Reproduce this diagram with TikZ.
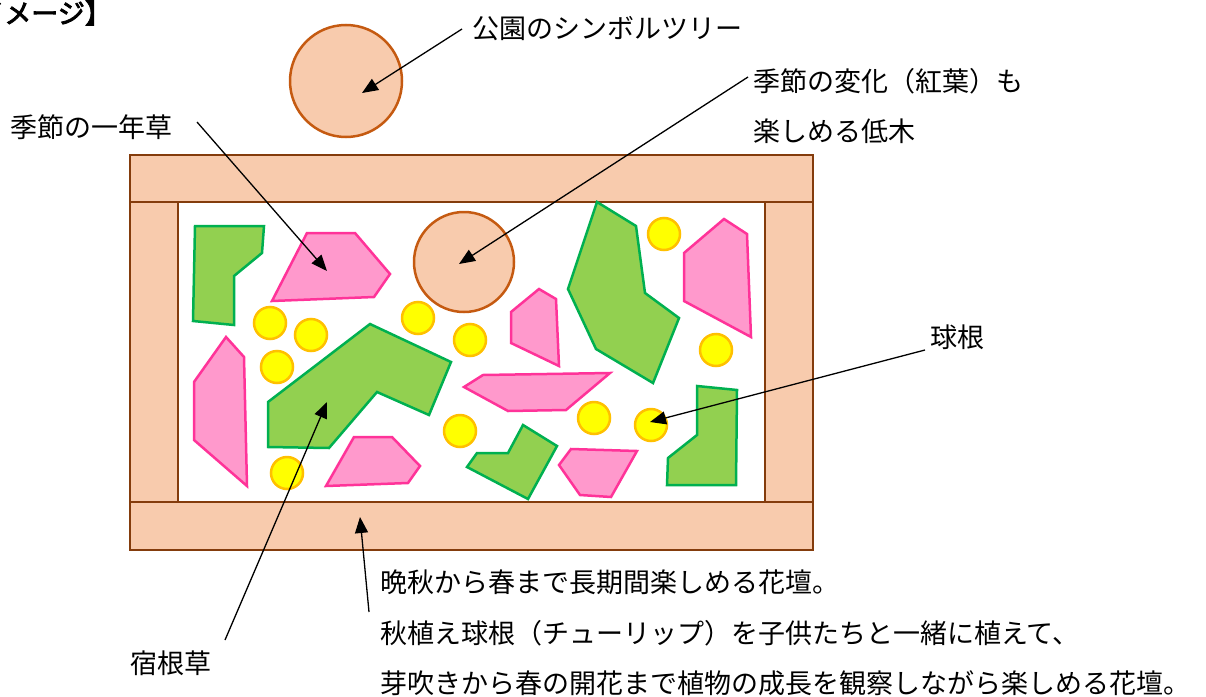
\documentclass[tikz,border=0pt]{standalone}
\usepackage{fontspec}
\newfontfamily\jp{Noto Sans CJK JP}
\newfontfamily\jpb[FakeBold=3]{Noto Sans CJK JP}
\usetikzlibrary{arrows.meta}
\definecolor{bedfill}{HTML}{F8CBAD}
\definecolor{beddraw}{HTML}{843C0C}
\definecolor{treedraw}{HTML}{C55A11}
\definecolor{gfill}{HTML}{92D050}
\definecolor{gdraw}{HTML}{00B050}
\definecolor{pfill}{HTML}{FF99CC}
\definecolor{pdraw}{HTML}{FF3399}
\definecolor{yfill}{HTML}{FFFF00}
\definecolor{ydraw}{HTML}{FFC000}
\begin{document}
\begin{tikzpicture}[x=1pt,y=-1pt,
  frame/.style={fill=bedfill,draw=beddraw,line width=2.5pt},
  tree/.style={fill=bedfill,draw=treedraw,line width=2.5pt},
  perennial/.style={fill=gfill,draw=gdraw,line width=2.5pt,line join=miter},
  annual/.style={fill=pfill,draw=pdraw,line width=2.5pt,line join=miter},
  bulb/.style={fill=yfill,draw=ydraw,line width=2.5pt},
  lbl/.style={anchor=west,inner sep=0pt,font=\jp\fontsize{27}{32}\selectfont},
  callout/.style={line width=1.3pt,-{Triangle[length=16pt,width=13pt]}}]
\useasboundingbox (0,0) rectangle (1206,696);
% title (cut at left edge, as in the reference)
\node[anchor=east,inner sep=0pt,font=\jpb\fontsize{27}{32}\selectfont] (title) at (112,13) {【イメージ】};
% flower bed frame
\fill[white] (178,202) rectangle (765,502);
\draw[frame] (130,155) rectangle (813,202);
\draw[frame] (130,502) rectangle (813,550);
\draw[frame] (130,202) rectangle (178,502);
\draw[frame] (765,202) rectangle (813,502);
% trees
\draw[tree] (346,81) circle[radius=56pt];
\draw[tree] (464,262) circle[radius=50pt];
% perennials (green)
\draw[perennial] (195,226) -- (264,226) -- (262,253) -- (234,276) -- (234,325) -- (193,321) -- cycle;
\draw[perennial] (268,402) -- (370,324) -- (451,362) -- (429,415) -- (377,392) -- (329,448) -- (268,447) -- cycle;
\draw[perennial] (597,202) -- (636,226) -- (645,293) -- (679,318) -- (653,383) -- (596,349) -- (568,289) -- cycle;
\draw[perennial] (523,425) -- (557,446) -- (528,499) -- (467,467) -- (477,453) -- (508,453) -- cycle;
\draw[perennial] (697,386) -- (737,390) -- (736,485) -- (667,485) -- (668,458) -- (697,435) -- cycle;
% annuals (pink)
\draw[annual] (307,233) -- (355,233) -- (390,274) -- (374,297) -- (272,301) -- cycle;
\draw[annual] (226,337) -- (244,357) -- (247,486) -- (194,440) -- (194,382) -- cycle;
\draw[annual] (354,437) -- (392,437) -- (420,466) -- (408,483) -- (326,486) -- cycle;
\draw[annual] (539,289) -- (556,299) -- (559,366) -- (511,343) -- (511,312) -- cycle;
\draw[annual] (724,219) -- (747,234) -- (751,337) -- (684,301) -- (684,253) -- cycle;
\draw[annual] (483,375) -- (610,373) -- (566,410) -- (508,411) -- (464,387) -- cycle;
\draw[annual] (571,449) -- (637,451) -- (611,497) -- (580,495) -- (559,465) -- cycle;
% bulbs (yellow)
\foreach \p in {(270,323),(311,335),(277,367),(287,473),(418,318),(470,340),(460,431),(594,418),(651,425),(664,234),(716,350)}
  \draw[bulb] \p circle[radius=16pt];
% labels
\node[lbl] (symtree) at (472,29) {公園のシンボルツリー};
\node[lbl] (shrub1) at (753,81) {季節の変化（紅葉）も};
\node[lbl] (shrub2) at (753,131) {楽しめる低木};
\node[lbl] (annlbl) at (10,127) {季節の一年草};
\node[lbl] (bulblbl) at (930,337) {球根};
\node[lbl] (perlbl) at (130,663) {宿根草};
\node[lbl] (bed1) at (380,582) {晩秋から春まで長期間楽しめる花壇。};
\node[lbl] (bed2) at (380,633) {秋植え球根（チューリップ）を子供たちと一緒に植えて、};
\node[lbl] (bed3) at (380,683) {芽吹きから春の開花まで植物の成長を観察しながら楽しめる花壇。};
% callout endpoints
\coordinate (s1) at (462,29);   \coordinate (t1) at (362,93);
\coordinate (s2) at (748,77);   \coordinate (t2) at (459,264);
\coordinate (s3) at (197,122);  \coordinate (t3) at (327,271);
\coordinate (s4) at (925,350);  \coordinate (t4) at (650,422);
\coordinate (s5) at (225,640);  \coordinate (t5) at (327,402);
\coordinate (s6) at (369,612);  \coordinate (t6) at (360,517);
\draw[callout] (s1) -- (t1);
\draw[callout] (s2) -- (t2);
\draw[callout] (s3) -- (t3);
\draw[callout] (s4) -- (t4);
\draw[callout] (s5) -- (t5);
\draw[callout] (s6) -- (t6);
\end{tikzpicture}
\end{document}
